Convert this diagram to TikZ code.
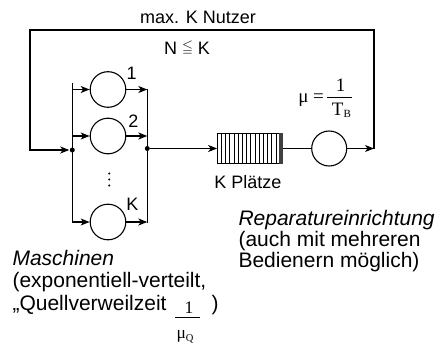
\documentclass[tikz,border=0pt]{standalone}
\usepackage{fontspec}
\setmainfont{Liberation Sans}
\newfontfamily\seriffont{Liberation Serif}
\usepackage{amssymb}
\usetikzlibrary{arrows.meta,calc}
\begin{document}
\begin{tikzpicture}[x=1pt,y=-1pt,
  line width=1.1pt,
  arr/.style={-{Stealth[length=9pt,width=7pt,inset=2.5pt]}},
  srv/.style={circle,draw,minimum size=35.6pt,inner sep=0pt},
  jdot/.style={circle,fill,inner sep=0pt,minimum size=5pt},
  lbl/.style={font=\fontsize{18}{20}\selectfont,inner sep=0pt},
  desc/.style={font=\fontsize{21}{21.5}\selectfont,inner sep=0pt,anchor=base west},
  ser/.style={font=\seriffont\fontsize{19}{21}\selectfont,inner sep=0pt},
  serb/.style={font=\seriffont\fontsize{17.5}{20}\selectfont,inner sep=0pt},
]
\useasboundingbox (0,0) rectangle (442,345);

% machines
\node[srv] (m1) at (108,89.5) {};
\node[srv] (m2) at (108,136) {};
\node[srv] (mK) at (108,222) {};
\coordinate (lbT) at (72.3,83.3);
\coordinate (lbB) at (72.3,222);
\coordinate (rbT) at (147.3,89.5);
\coordinate (rbB) at (147.3,222.5);
\node[jdot] (ld) at (72.3,150) {};
\node[jdot] (rd) at (147.3,148.5) {};
\draw (lbT) -- (lbB);
\draw (rbT) -- (rbB);
\draw[arr] (lbT |- m1) -- (m1);
\draw[arr] (lbT |- m2) -- (m2);
\draw[arr] (lbB) -- (mK);
\draw[arr] (m1) -- (rbT);
\draw[arr] (m2) -- (rbT |- m2);
\draw[arr] (mK) -- (rbB |- mK);
\foreach \yy in {173.5,179.5,185.5} \fill (109.3,\yy) circle (1.1pt);

\node[lbl] (t1) at (131.7,73.5) {1};
\node[lbl] (t2) at (133.5,121) {2};
\node[lbl] (tK) at (132.5,204) {K};

% queue
\node[draw,minimum width=64.3pt,minimum height=29.3pt,inner sep=0pt] (q) at (249.8,148.5) {};
\foreach \i in {1,...,14}
  \draw[line width=0.8pt] ($(q.north west)+(\i*4.2,0)$) -- ($(q.south west)+(\i*4.2,0)$);
\fill[black!75] ($(q.north east)+(-3.5,0)$) rectangle (q.south east);
\node[lbl] (kp) at (248,181.7) {K Plätze};

% server
\node[srv,minimum size=35pt] (s) at (329.2,148.5) {};
\draw[arr] (rd) -- (q);
\draw (q) -- (s);
\coordinate (cR) at (374,148.5);
\coordinate (cTR) at (374,30);
\coordinate (cTL) at (30,30);
\coordinate (cL) at (30,150);
\draw[arr] (s) -- (cR);
\draw[arr] (cR) -- (cTR) -- (cTL) -- (cL) -- (ld);

% top labels
\node[lbl] (mx) at (198,17) {max. K Nutzer};
\node[lbl] (nk) at (187,48) {N \raisebox{3pt}{\fontsize{14}{14}\selectfont$\leqq$} K};

% mu = 1/T_B
\node[ser,anchor=base east] (mu) at (324.5,102.3) {μ =};
\node[ser,anchor=base] (one) at (340.5,91.7) {1};
\draw[line width=0.8pt] (327,97.3) -- (352,97.3);
\node[ser,anchor=base] (tb) at (341.4,115) {T\raisebox{-2pt}{\fontsize{11}{11}\selectfont B}};

% descriptions
\node[desc] (ma1) at (12,265.5) {\itshape Maschinen};
\node[desc] (ma2) at (12,287.5) {(exponentiell-verteilt,};
\node[desc] (ma3) at (12,310.5) {„Quellverweilzeit};
\node[serb,anchor=base] (q1) at (189,313) {1};
\draw[line width=0.8pt] (175,317.3) -- (200,317.3);
\node[serb,anchor=base] (muq) at (185,338.5) {μ\raisebox{-3pt}{\fontsize{10.5}{10.5}\selectfont Q}};
\node[desc] (rp) at (211,310.5) {)};

\node[desc] (r1) at (238,225.7) {\itshape Reparatureinrichtung};
\node[desc] (r2) at (238,246.7) {(auch mit mehreren};
\node[desc] (r3) at (238,267.7) {Bedienern möglich)};
\end{tikzpicture}
\end{document}
